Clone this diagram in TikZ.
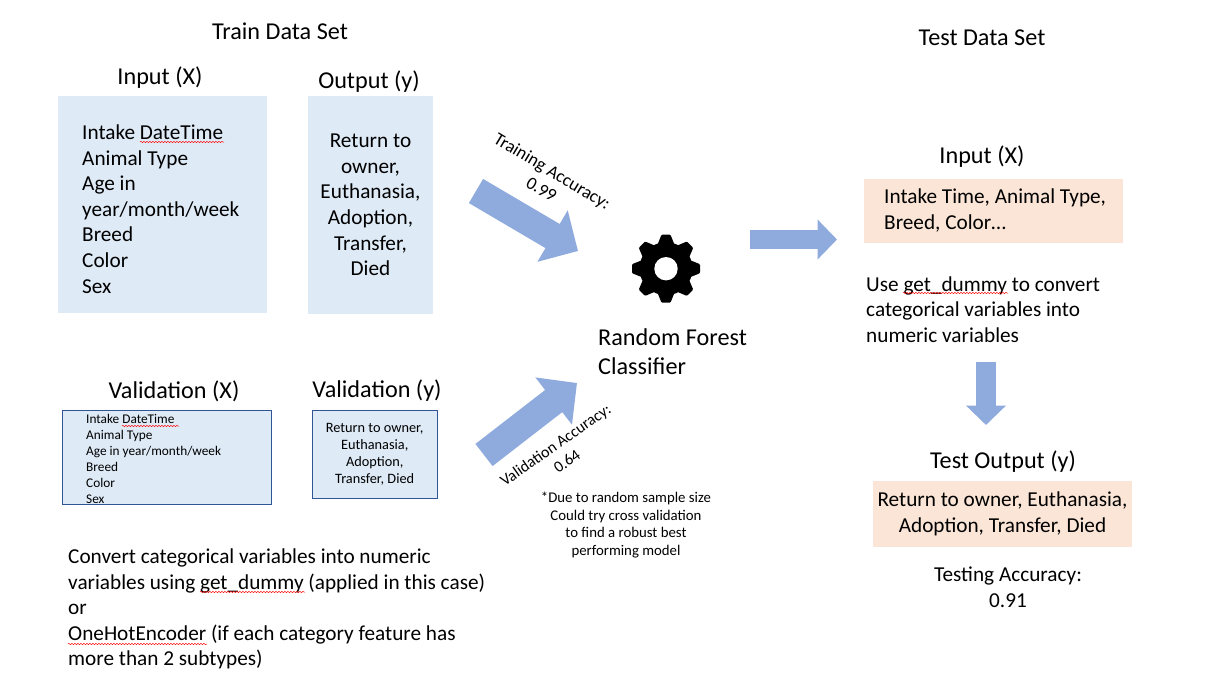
\documentclass[tikz,border=0pt]{standalone}
\usepackage{fontspec}
\setmainfont{Carlito}
\usetikzlibrary{arrows.meta, decorations.pathmorphing}

\definecolor{boxblue}{HTML}{DEEAF6}
\definecolor{boxpeach}{HTML}{FBE5D6}
\definecolor{arrowblue}{HTML}{8FAADC}
\definecolor{edgeblue}{HTML}{2F5597}

\tikzset{
  headtext/.style={inner sep=0pt, font=\fontsize{24.2}{29}\selectfont, align=center},
  bodytext/.style={inner sep=0pt, font=\fontsize{21.25}{25.6}\selectfont, align=left},
  smalltext/.style={inner sep=0pt, font=\fontsize{14.8}{17.7}\selectfont, align=center},
  bluebox/.style={fill=boxblue, inner sep=0pt, align=center},
  peachbox/.style={fill=boxpeach, inner sep=0pt, minimum width=259pt},
  bigarrow/.style={draw=arrowblue, line width=28pt, -{Triangle[width=58pt,length=29.5pt]}},
  smallarrow/.style={draw=arrowblue, line width=19.5pt, -{Triangle[width=39pt,length=19.5pt]}},
  squiggle/.style={draw=red, line width=0.5pt, decorate, decoration={snake, segment length=3pt, amplitude=0.6pt}}
}

\begin{document}
\begin{tikzpicture}[x=1pt, y=-1pt]
    \useasboundingbox (0,0) rectangle (1208,693);

    % Train data
    \node[headtext] (traintitle) at (280,31) {Train Data Set};
    \node[headtext] (inputx) at (160,78) {Input (X)};
    \node[headtext] (outputy) at (369,82) {Output (y)};
    \node[bluebox, minimum width=209pt, minimum height=217pt] (trainx) at (162.5,204.5) {};
    \node[bodytext, anchor=west] (trainxlist) at (82,209) {Intake DateTime\\Animal Type\\Age in\\year/month/week\\Breed\\Color\\Sex};
    \node[bluebox, bodytext, minimum width=125pt, minimum height=218pt, align=center] (trainy) at (370.5,205) {Return to\\owner,\\Euthanasia,\\Adoption,\\Transfer,\\Died};

    % Validation data
    \node[headtext] (validxtitle) at (174,391) {Validation (X)};
    \node[headtext] (validytitle) at (377,391) {Validation (y)};
    \node[bluebox, draw=edgeblue, line width=1pt, minimum width=209.5pt, minimum height=94.5pt] (validx) at (167,457.3) {};
    \node[inner sep=0pt, anchor=west, align=left, font=\fontsize{13.3}{16}\selectfont] (validxlist) at (86,459) {Intake DateTime\\Animal Type\\Age in year/month/week\\Breed\\Color\\Sex};
    \node[bluebox, draw=edgeblue, line width=1pt, minimum width=125pt, minimum height=88pt, font=\fontsize{14.3}{17}\selectfont] (validy) at (374.7,454) {Return to owner,\\Euthanasia,\\Adoption,\\Transfer, Died};

    % Notes under the validation boxes
    \node[bodytext, anchor=west] (encodenote) at (68,609) {Convert categorical variables into numeric\\variables using get\_dummy (applied in this case)\\or\\OneHotEncoder (if each category feature has\\more than 2 subtypes)};

    % Classifier
    \coordinate (gear) at (666,268.7);
    \foreach \a in {0,45,...,315} {
      \fill[shift={(gear)}, rotate=\a, rounded corners=1pt] (-8.5,-24) -- (-4.5,-34) -- (4.5,-34) -- (8.5,-24) -- cycle;
    }
    \fill (gear) circle (26.5pt);
    \fill[white] (gear) circle (11.7pt);
    \node[headtext, anchor=west, align=left] (forest) at (598,351.5) {Random Forest\\Classifier};
    \node[smalltext] (samplenote) at (626,525) {*Due to random sample size\\Could try cross validation\\to find a robust best\\performing model};

    % Block arrows
    \coordinate (trainfrom) at (476,191);
    \coordinate (trainto) at (578,251);
    \coordinate (validfrom) at (484,455);
    \coordinate (validto) at (577,383);
    \coordinate (testfrom) at (750,239.5);
    \coordinate (testto) at (837,239.5);
    \coordinate (downfrom) at (986,362);
    \coordinate (downto) at (986,425);
    \draw[bigarrow] (trainfrom) -- (trainto);
    \draw[bigarrow] (validfrom) -- (validto);
    \draw[smallarrow] (testfrom) -- (testto);
    \draw[smallarrow] (downfrom) -- (downto);
    \node[inner sep=0pt, align=center, font=\fontsize{18}{21}\selectfont, rotate=-31] (trainacc) at (547,180) {Training Accuracy:\\0.99};
    \node[inner sep=0pt, align=center, font=\fontsize{16}{20}\selectfont, rotate=35] (validacc) at (561,453) {Validation Accuracy:\\0.64};

    % Test data
    \node[headtext] (testtitle) at (982,38) {Test Data Set};
    \node[headtext] (testinput) at (982,157) {Input (X)};
    \node[peachbox, minimum height=64pt] (testx) at (993.5,211) {};
    \node[bodytext, anchor=west] (testxlist) at (884,210.5) {Intake Time, Animal Type,\\Breed, Color…};
    \node[bodytext, anchor=west] (dummynote) at (866,309.5) {Use get\_dummy to convert\\categorical variables into\\numeric variables};
    \node[headtext] (testoutput) at (1003,462) {Test Output (y)};
    \node[peachbox, bodytext, minimum height=66pt, align=center] (testy) at (1002.5,514) {Return to owner, Euthanasia,\\Adoption, Transfer, Died};
    \node[bodytext, align=center] (testacc) at (1008,587) {Testing Accuracy:\\0.91};

    % Spell check marks
    \foreach \xa/\xb/\ya in {140/224/142, 122/179/426, 903/1008/293, 200/305/592, 68/207/644} {
      \draw[squiggle] (\xa,\ya) -- (\xb,\ya);
    }
\end{tikzpicture}
\end{document}
